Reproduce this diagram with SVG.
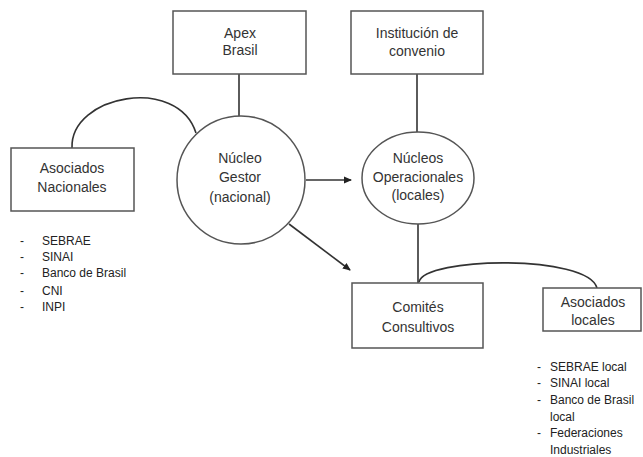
<svg xmlns="http://www.w3.org/2000/svg" width="643" height="457" viewBox="0 0 643 457">
<style>
.box{fill:#fff;stroke:#555;stroke-width:1.5}
.t{font-family:"Liberation Sans",Arial,sans-serif;font-size:14px;fill:#333;text-anchor:middle}
.l{font-family:"Liberation Sans",Arial,sans-serif;font-size:12px;fill:#222}
.c{fill:none;stroke:#333;stroke-width:1.6}
</style>
<defs>
<marker id="ah" markerWidth="8" markerHeight="8" refX="7" refY="4" orient="auto" markerUnits="userSpaceOnUse">
<path d="M0,0.5 L8,4 L0,7.5 z" fill="#222"/>
</marker>
</defs>
<rect width="643" height="457" fill="#fff"/>
<g id="connectors">
<path class="c" d="M239,74 V117"/>
<path class="c" d="M417,74 V132"/>
<path class="c" d="M418,224 V283"/>
<path class="c" d="M72,148 C70,95 178,75 196,133"/>
<path class="c" d="M419,282 C424,257 588,254 597,288"/>
<path class="c" d="M306,180 H351" marker-end="url(#ah)"/>
<path class="c" d="M289,224 L350,270" marker-end="url(#ah)"/>
</g>
<g id="apex">
<rect class="box" x="173" y="11" width="133" height="63"/>
<text class="t" x="240" y="38">Apex</text>
<text class="t" x="240" y="55">Brasil</text>
</g>
<g id="institucion">
<rect class="box" x="351" y="11" width="132" height="63"/>
<text class="t" x="417" y="38">Institución de</text>
<text class="t" x="417" y="56">convenio</text>
</g>
<g id="asociados-nacionales">
<rect class="box" x="11" y="148" width="123" height="63"/>
<text class="t" x="72" y="173">Asociados</text>
<text class="t" x="72" y="192">Nacionales</text>
</g>
<g id="nucleo-gestor">
<circle cx="241" cy="180" r="64" fill="#fff" stroke="#555" stroke-width="1.5"/>
<text class="t" x="240" y="163">Núcleo</text>
<text class="t" x="240" y="182">Gestor</text>
<text class="t" x="240" y="202">(nacional)</text>
</g>
<g id="nucleos-operacionales">
<ellipse cx="418" cy="178" rx="56" ry="46" fill="#fff" stroke="#555" stroke-width="1.5"/>
<text class="t" x="418" y="163">Núcleos</text>
<text class="t" x="418" y="182">Operacionales</text>
<text class="t" x="418" y="200">(locales)</text>
</g>
<g id="comites">
<rect class="box" x="352" y="283" width="131" height="65"/>
<text class="t" x="418" y="312">Comités</text>
<text class="t" x="418" y="332">Consultivos</text>
</g>
<g id="asociados-locales">
<rect class="box" x="543" y="288" width="98" height="43"/>
<text class="t" x="593" y="307">Asociados</text>
<text class="t" x="593" y="325">locales</text>
</g>
<g id="lista-nacionales" class="l">
<text x="20" y="245">-</text><text x="42" y="245">SEBRAE</text>
<text x="20" y="261">-</text><text x="42" y="261">SINAI</text>
<text x="20" y="277">-</text><text x="42" y="277">Banco de Brasil</text>
<text x="20" y="295">-</text><text x="42" y="295">CNI</text>
<text x="20" y="311">-</text><text x="42" y="311">INPI</text>
</g>
<g id="lista-locales" class="l">
<text x="537" y="371">-</text><text x="550" y="371">SEBRAE local</text>
<text x="537" y="387">-</text><text x="550" y="387">SINAI local</text>
<text x="537" y="404">-</text><text x="550" y="404">Banco de Brasil</text>
<text x="550" y="421">local</text>
<text x="537" y="437">-</text><text x="550" y="437">Federaciones</text>
<text x="550" y="454">Industriales</text>
</g>
</svg>
